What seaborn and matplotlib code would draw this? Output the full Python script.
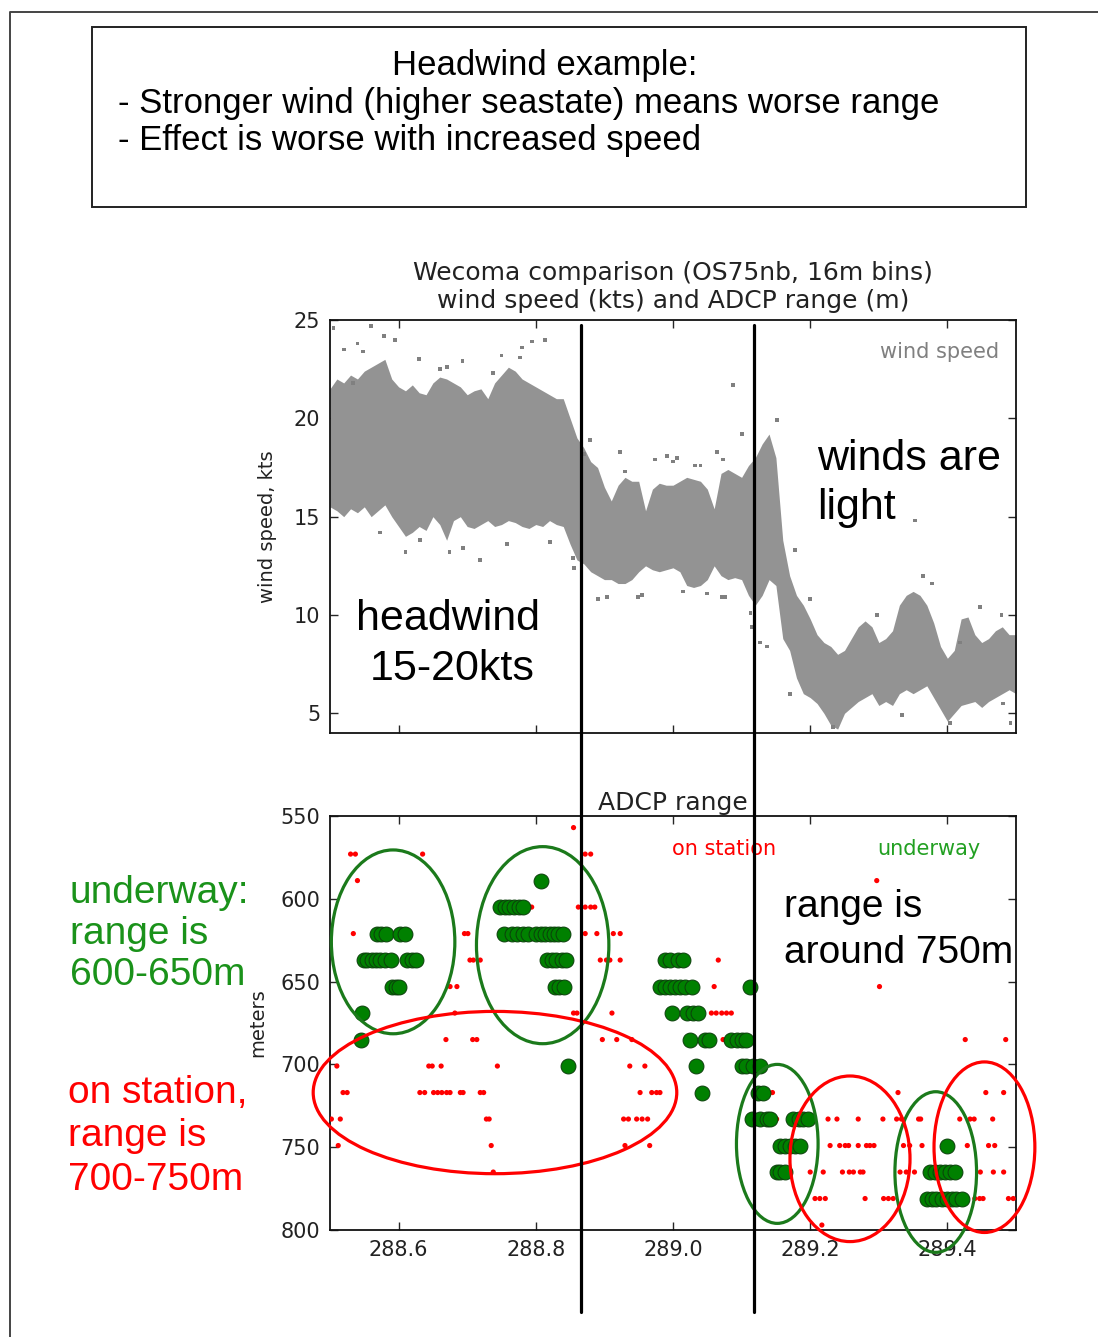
import numpy as np
import pandas as pd
import matplotlib
matplotlib.use('Agg')
import matplotlib.pyplot as plt
import seaborn as sns
from matplotlib.patches import Ellipse, Rectangle
from matplotlib.lines import Line2D
from matplotlib.transforms import blended_transform_factory

# wind speed (kts): dense core of the cloud, low/high edge read every 0.01
wind_t = [288.50, 288.51, 288.52, 288.53, 288.54, 288.55, 288.56, 288.57, 288.58, 288.59,
          288.60, 288.61, 288.62, 288.63, 288.64, 288.65, 288.66, 288.67, 288.68, 288.69,
          288.70, 288.71, 288.72, 288.73, 288.74, 288.75, 288.76, 288.77, 288.78, 288.79,
          288.80, 288.81, 288.82, 288.83, 288.84, 288.85, 288.86, 288.87, 288.88, 288.89,
          288.90, 288.91, 288.92, 288.93, 288.94, 288.95, 288.96, 288.97, 288.98, 288.99,
          289.00, 289.01, 289.02, 289.03, 289.04, 289.05, 289.06, 289.07, 289.08, 289.09,
          289.10, 289.11, 289.12, 289.13, 289.14, 289.15, 289.16, 289.17, 289.18, 289.19,
          289.20, 289.21, 289.22, 289.23, 289.24, 289.25, 289.26, 289.27, 289.28, 289.29,
          289.30, 289.31, 289.32, 289.33, 289.34, 289.35, 289.36, 289.37, 289.38, 289.39,
          289.40, 289.41, 289.42, 289.43, 289.44, 289.45, 289.46, 289.47, 289.48, 289.49, 289.50]
wind_lo = [15.5, 15.3, 15.0, 15.4, 15.2, 15.5, 15.0, 15.3, 15.6, 15.0,
           14.5, 14.0, 14.2, 14.5, 14.3, 15.0, 14.6, 13.8, 14.8, 15.0,
           14.5, 14.4, 14.6, 14.8, 14.5, 14.6, 14.8, 14.7, 14.5, 14.4,
           14.6, 14.5, 14.8, 14.6, 14.5, 13.6, 12.8, 12.6, 12.2, 12.0,
           11.8, 11.8, 11.6, 11.6, 11.8, 12.2, 12.5, 12.3, 12.2, 12.3,
           12.4, 12.2, 11.5, 11.4, 11.5, 11.8, 12.5, 12.0, 11.8, 11.9,
           11.8, 11.0, 10.5, 11.0, 11.8, 11.5, 8.8, 8.2, 6.8, 6.0,
           5.8, 5.5, 5.0, 4.4, 4.2, 5.0, 5.3, 5.6, 5.8, 6.0,
           5.4, 5.6, 5.4, 6.0, 6.2, 6.0, 6.2, 6.4, 5.8, 5.2,
           4.6, 5.0, 5.4, 5.5, 5.6, 5.3, 5.6, 5.8, 6.0, 6.2, 6.0]
wind_hi = [21.5, 22.0, 21.8, 22.2, 22.0, 22.4, 22.6, 22.8, 23.0, 22.0,
           21.6, 21.4, 21.7, 21.3, 21.2, 21.8, 22.1, 22.0, 21.8, 21.6,
           21.2, 21.4, 21.5, 21.0, 21.8, 22.2, 22.6, 22.4, 22.0, 21.8,
           21.6, 21.4, 21.2, 21.0, 21.0, 20.0, 19.0, 18.5, 17.8, 17.5,
           16.5, 15.8, 16.6, 17.0, 16.8, 16.8, 15.3, 16.4, 16.7, 16.6,
           16.6, 16.8, 17.0, 16.9, 16.8, 16.4, 15.4, 17.2, 17.4, 17.2,
           17.0, 17.6, 18.0, 18.7, 19.2, 18.0, 13.8, 12.0, 11.0, 10.5,
           9.8, 9.0, 8.6, 8.4, 8.0, 8.2, 8.8, 9.4, 9.7, 9.4,
           8.6, 8.8, 9.2, 10.5, 11.0, 11.2, 11.0, 10.5, 9.6, 8.4,
           7.8, 8.2, 9.8, 9.9, 9.0, 8.6, 8.8, 9.2, 9.4, 9.0, 9.0]

# scattered wind readings outside the dense core
wind_pts_t = [288.505, 288.520, 288.540, 288.560, 288.579, 288.630, 288.660, 288.693, 288.750, 288.780,
              288.794, 288.813, 288.610, 288.674, 288.719, 288.856, 288.870, 288.891, 288.930, 288.949,
              289.000, 289.040, 289.071, 289.087, 289.101, 289.113, 289.137, 289.178, 289.353, 289.479,
              289.492, 288.548, 288.595, 288.738, 288.777, 288.671, 288.534, 288.573, 288.631, 288.694,
              288.758, 288.821, 288.854, 288.879, 288.923, 288.974, 288.991, 289.006, 289.064, 289.032,
              289.073, 288.904, 288.955, 289.015, 289.050, 289.076, 289.115, 289.127, 289.152, 289.200,
              289.297, 289.364, 289.378, 289.448, 289.418, 289.171, 289.233, 289.334, 289.404, 289.481]
wind_pts_v = [24.6, 23.5, 23.8, 24.7, 24.2, 23.0, 22.5, 22.9, 23.2, 23.6,
              23.9, 24.0, 13.2, 13.2, 12.8, 12.4, 18.2, 10.8, 17.3, 10.9,
              17.8, 17.6, 10.9, 21.7, 19.2, 10.1, 8.4, 13.3, 14.8, 10.0,
              4.5, 23.4, 24.0, 22.3, 23.1, 22.6, 21.8, 14.2, 13.8, 13.4,
              13.6, 13.7, 12.9, 18.9, 18.3, 17.9, 18.1, 18.0, 18.3, 17.6,
              17.9, 10.9, 11.0, 11.2, 11.1, 10.9, 9.4, 8.6, 19.9, 10.8,
              10.0, 12.0, 11.6, 10.4, 8.6, 6.0, 4.3, 4.9, 4.5, 5.5]

# ADCP range (m): 16 m bins and the times of the points in each bin
range_bins = [557, 573, 589, 605, 621, 637, 653, 669, 685, 701, 717, 733, 749, 765, 781, 797]
station_t = [
    [288.855],
    [288.530, 288.537, 288.635, 288.872, 288.880],
    [288.540, 289.297],
    [288.794, 288.862, 288.872, 288.880, 288.886],
    [288.534, 288.696, 288.701, 288.872, 288.889, 288.913, 288.923],
    [288.704, 288.709, 288.719, 288.894, 288.903, 288.908, 288.923, 289.066],
    [288.675, 288.685, 289.060, 289.301],
    [288.682, 288.855, 288.860, 288.911, 289.056, 289.063, 289.071, 289.078, 289.085],
    [288.669, 288.708, 288.714, 288.897, 288.918, 288.940, 289.073, 289.426, 289.485],
    [288.510, 288.644, 288.649, 288.662, 288.744, 288.937, 288.959],
    [288.519, 288.525, 288.631, 288.638, 288.651, 288.657, 288.663, 288.670, 288.675, 288.690,
     288.694, 288.719, 288.724, 288.952, 288.969, 288.976, 288.981, 289.145, 289.328, 289.456, 289.482],
    [288.502, 288.515, 288.728, 288.732, 288.928, 288.935, 288.947, 288.955, 288.963, 289.151,
     289.226, 289.239, 289.270, 289.306, 289.326, 289.333, 289.358, 289.361, 289.418, 289.433,
     289.439, 289.466],
    [288.512, 288.735, 288.930, 288.966, 289.229, 289.243, 289.251, 289.256, 289.270, 289.282,
     289.287, 289.293, 289.336, 289.345, 289.363, 289.429, 289.460, 289.469],
    [288.738, 289.200, 289.219, 289.247, 289.257, 289.263, 289.273, 289.277, 289.331, 289.340,
     289.352, 289.448, 289.467, 289.482],
    [289.207, 289.214, 289.222, 289.280, 289.307, 289.314, 289.321, 289.440, 289.447, 289.452,
     289.489, 289.496],
    [289.217],
]
underway_t = [
    [],
    [],
    [288.808],
    [288.748, 288.755, 288.761, 288.768, 288.775, 288.782],
    [288.568, 288.575, 288.582, 288.602, 288.609, 288.753, 288.765, 288.772, 288.782, 288.789,
     288.801, 288.808, 288.813, 288.820, 288.826, 288.833, 288.840],
    [288.549, 288.554, 288.561, 288.567, 288.573, 288.580, 288.589, 288.612, 288.619, 288.626,
     288.816, 288.823, 288.830, 288.838, 288.844, 288.988, 288.996, 289.008, 289.014],
    [288.591, 288.596, 288.600, 288.828, 288.834, 288.841, 288.981, 288.988, 288.995, 289.003,
     289.010, 289.017, 289.027, 289.112],
    [288.546, 288.998, 289.020, 289.029, 289.037],
    [288.545, 289.025, 289.047, 289.053, 289.085, 289.093, 289.100, 289.106],
    [288.847, 289.034, 289.100, 289.107, 289.116, 289.127],
    [289.042, 289.124, 289.131],
    [289.115, 289.127, 289.137, 289.141, 289.175, 289.183, 289.190, 289.197],
    [289.156, 289.163, 289.171, 289.178, 289.185, 289.399],
    [289.151, 289.156, 289.163, 289.375, 289.382, 289.389, 289.397, 289.404, 289.411],
    [289.370, 289.377, 289.384, 289.392, 289.399, 289.406, 289.413, 289.421],
    [],
]

# hand drawn ellipses: centre time, centre range, width, height
green_ell = [(288.592, 626, 0.180, 111), (288.810, 628, 0.193, 119),
             (289.152, 748, 0.119, 96), (289.383, 765, 0.119, 97)]
red_ell = [(288.7405, 717, 0.530, 98), (289.258, 757, 0.175, 100), (289.454, 750, 0.147, 103)]

# times of the two vertical markers
marker_t = [288.866, 289.118]


def to_frame(times):
    rows = [(t, m) for m, ts in zip(range_bins, times) for t in ts]
    return pd.DataFrame(rows, columns=['time', 'range'])


station_df = to_frame(station_t)
underway_df = to_frame(underway_t)

sns.set_style('ticks')
plt.rcParams['font.family'] = ['DejaVu Sans']
plt.rcParams['axes.linewidth'] = 1.3
plt.rcParams['text.color'] = 'black'

W, H = 1098, 1337
fig = plt.figure(figsize=(W / 100, H / 100), dpi=100)


def fx(x):
    return x / W


def fy(y):
    return 1 - y / H


ax1 = fig.add_axes([fx(330), fy(733), fx(1016) - fx(330), fy(320) - fy(733)])
ax2 = fig.add_axes([fx(330), fy(1230), fx(1016) - fx(330), fy(816) - fy(1230)])

# wind speed panel
ax1.fill_between(wind_t, wind_lo, wind_hi, color='#939393', lw=0)
sns.scatterplot(x=wind_pts_t, y=wind_pts_v, ax=ax1, marker='s', s=7, color='#808080',
                edgecolor='none', legend=False)
ax1.set_xlim(288.5, 289.5)
ax1.set_ylim(4, 25)
ax1.set_yticks([5, 10, 15, 20, 25])
ax1.set_xticks([288.6, 288.8, 289.0, 289.2, 289.4])
ax1.tick_params(labelbottom=False)
ax1.set_ylabel('wind speed, kts', fontsize=14, color='#222222')
ax1.yaxis.set_label_coords(-0.077, 0.5)
ax1.set_title('Wecoma comparison (OS75nb, 16m bins)\nwind speed (kts) and ADCP range (m)',
              fontsize=18, color='#222222', pad=8.5)

# ADCP range panel
sns.scatterplot(data=station_df, x='time', y='range', ax=ax2, color='#ff0000', s=14,
                edgecolor='none', legend=False, zorder=3)
sns.scatterplot(data=underway_df, x='time', y='range', ax=ax2, color='#008000', s=115,
                edgecolor='#0b3f0b', linewidth=0.7, legend=False, zorder=4)
ax2.set_xlim(288.5, 289.5)
ax2.set_ylim(800, 550)
ax2.set_yticks([550, 600, 650, 700, 750, 800])
ax2.set_xticks([288.6, 288.8, 289.0, 289.2, 289.4])
ax2.set_xticklabels(['288.6', '288.8', '289.0', '289.2', '289.4'])
ax2.set_ylabel('meters', fontsize=14, color='#222222')
ax2.yaxis.set_label_coords(-0.092, 0.5)
ax2.set_title('ADCP range', fontsize=18, color='#222222', pad=4)

for ax in (ax1, ax2):
    ax.tick_params(direction='in', top=True, right=True, length=6, width=1,
                   labelsize=15, labelcolor='#222222', pad=7)
    ax.set_xlabel('')
    for sp in ax.spines.values():
        sp.set_color('#111111')

for cx, cy, w, h in green_ell:
    ax2.add_patch(Ellipse((cx, cy), w, h, fill=False, ec='#1b7a1b', lw=2.3, clip_on=False, zorder=5))
for cx, cy, w, h in red_ell:
    ax2.add_patch(Ellipse((cx, cy), w, h, fill=False, ec='#ff0000', lw=2.3, clip_on=False, zorder=5))

# vertical markers across both panels
trans = blended_transform_factory(ax2.transData, fig.transFigure)
for t in marker_t:
    fig.add_artist(Line2D([t, t], [fy(1312), fy(325)], transform=trans, color='black', lw=2.3, zorder=10))

# page frame and header box
fig.add_artist(Line2D([fx(10), fx(10), fx(1098)], [fy(1337), fy(12), fy(12)],
                      transform=fig.transFigure, color='#444444', lw=1.4))
fig.add_artist(Rectangle((fx(92), fy(207)), fx(1026) - fx(92), fy(27) - fy(207),
                         transform=fig.transFigure, fill=False, ec='#222222', lw=1.4))

big = ['Liberation Sans', 'DejaVu Sans']
fig.text(fx(545), fy(75), 'Headwind example:', fontsize=25, family=big, ha='center', va='baseline')
fig.text(fx(118), fy(113), '- Stronger wind (higher seastate) means worse range', fontsize=25,
         family=big, ha='left', va='baseline')
fig.text(fx(118), fy(150), '- Effect is worse with increased speed', fontsize=25,
         family=big, ha='left', va='baseline')

fig.text(fx(448), fy(630), 'headwind', fontsize=31, family=big, ha='center', va='baseline')
fig.text(fx(452), fy(680), '15-20kts', fontsize=31, family=big, ha='center', va='baseline')
fig.text(fx(817), fy(470), 'winds are', fontsize=31, family=big, ha='left', va='baseline')
fig.text(fx(817), fy(519), 'light', fontsize=31, family=big, ha='left', va='baseline')
fig.text(fx(784), fy(917), 'range is', fontsize=28, family=big, ha='left', va='baseline')
fig.text(fx(784), fy(963), 'around 750m', fontsize=28, family=big, ha='left', va='baseline')

green_txt = '#1a921a'
fig.text(fx(70), fy(903), 'underway:', fontsize=28, family=big, color=green_txt, va='baseline')
fig.text(fx(70), fy(944), 'range is', fontsize=28, family=big, color=green_txt, va='baseline')
fig.text(fx(70), fy(985), '600-650m', fontsize=28, family=big, color=green_txt, va='baseline')
fig.text(fx(68), fy(1103), 'on station,', fontsize=28, family=big, color='#ff0000', va='baseline')
fig.text(fx(68), fy(1146), 'range is', fontsize=28, family=big, color='#ff0000', va='baseline')
fig.text(fx(68), fy(1190), '700-750m', fontsize=28, family=big, color='#ff0000', va='baseline')

fig.text(fx(999), fy(352), 'wind speed', fontsize=15, color='#808080', ha='right', va='center')
fig.text(fx(672), fy(849), 'on station', fontsize=15, color='#ff0000', ha='left', va='center')
fig.text(fx(877), fy(849), 'underway', fontsize=15, color='#22a022', ha='left', va='center')

fig.savefig('out.png', dpi=100)
